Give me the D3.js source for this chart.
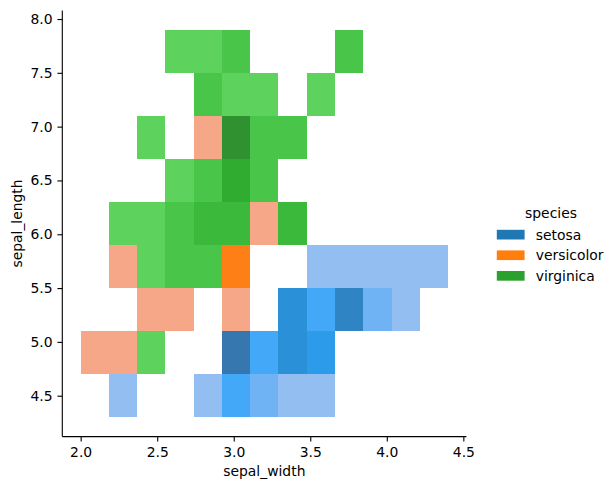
<!DOCTYPE html>
<html>
<head>
<meta charset="utf-8">
<script src="https://cdn.jsdelivr.net/npm/d3@7"></script>
<style>
  html, body { margin: 0; padding: 0; background: #fff; }
  svg { display: block; font-family: "DejaVu Sans", sans-serif; }
</style>
</head>
<body>
<svg id="chart" width="615" height="490"></svg>
<script>
// ---------------- data ----------------
const species = ["setosa", "versicolor", "virginica"];
const speciesColors = ["#1f77b4", "#ff7f0e", "#2ca02c"];

// bin layout (sepal_width on x, sepal_length on y)
const xBinRange = [2.0, 4.4];
const xBinCount = 13;
const yBinRange = [4.3, 7.9];
const yBinCount = 9;

// counts per bin: rows = sepal_length bins (bottom -> top), columns = sepal_width bins (left -> right)
const setosaCounts = [
  [0,1,0,0,1,3,2,1,1,0,0,0,0],
  [0,0,0,0,0,7,3,5,4,0,0,0,0],
  [0,0,0,0,0,0,0,5,3,6,2,1,0],
  [0,0,0,0,0,0,0,0,1,1,1,1,1],
  [0,0,0,0,0,0,0,0,0,0,0,0,0],
  [0,0,0,0,0,0,0,0,0,0,0,0,0],
  [0,0,0,0,0,0,0,0,0,0,0,0,0],
  [0,0,0,0,0,0,0,0,0,0,0,0,0],
  [0,0,0,0,0,0,0,0,0,0,0,0,0]
];
const versicolorCounts = [
  [0,0,0,0,0,0,0,0,0,0,0,0,0],
  [1,1,1,0,0,0,0,0,0,0,0,0,0],
  [0,0,1,1,0,1,0,0,0,0,0,0,0],
  [0,1,4,6,4,3,0,0,0,0,0,0,0],
  [0,3,1,1,5,2,1,2,0,0,0,0,0],
  [0,0,0,0,3,1,1,0,0,0,0,0,0],
  [0,0,0,0,1,4,1,0,0,0,0,0,0],
  [0,0,0,0,0,0,0,0,0,0,0,0,0],
  [0,0,0,0,0,0,0,0,0,0,0,0,0]
];
const virginicaCounts = [
  [0,0,0,0,0,0,0,0,0,0,0,0,0],
  [0,0,1,0,0,0,0,0,0,0,0,0,0],
  [0,0,0,0,0,0,0,0,0,0,0,0,0],
  [0,0,1,2,2,0,0,0,0,0,0,0,0],
  [0,1,1,2,3,3,0,3,0,0,0,0,0],
  [0,0,0,1,2,4,2,0,0,0,0,0,0],
  [0,0,1,0,0,6,2,2,0,0,0,0,0],
  [0,0,0,0,2,1,1,0,1,0,0,0,0],
  [0,0,0,1,1,2,0,0,0,2,0,0,0]
];
const countsBySpecies = [setosaCounts, versicolorCounts, virginicaCounts];

const xTicks = [2.0, 2.5, 3.0, 3.5, 4.0, 4.5];
const yTicks = [4.5, 5.0, 5.5, 6.0, 6.5, 7.0, 7.5, 8.0];
const xLabel = "sepal_width";
const yLabel = "sepal_length";
const legendTitle = "species";

// ---------------- HUSL (seaborn's husl module) ----------------
const HM = [[3.2406, -1.5372, -0.4986], [-0.9689, 1.8758, 0.0415], [0.0557, -0.2040, 1.0570]];
const HM_INV = [[0.4124, 0.3576, 0.1805], [0.2126, 0.7152, 0.0722], [0.0193, 0.1192, 0.9505]];
const refY = 1.0, refU = 0.19784, refV = 0.46834, labE = 0.008856, labK = 903.3;
function maxChroma(L, H) {
  const hr = H * Math.PI / 180, sinH = Math.sin(hr), cosH = Math.cos(hr);
  const sub1 = Math.pow(L + 16, 3) / 1560896.0;
  const sub2 = sub1 > 0.008856 ? sub1 : L / 903.3;
  let res = Infinity;
  for (const [m1, m2, m3] of HM) {
    const top = (0.99915 * m1 + 1.05122 * m2 + 1.14460 * m3) * sub2;
    const rb = 0.86330 * m3 - 0.17266 * m2;
    const lb = 0.12949 * m3 - 0.38848 * m1;
    const bottom = (rb * sinH + lb * cosH) * sub2;
    for (const t of [0, 1]) {
      const C = L * (top - 1.05122 * t) / (bottom + 0.17266 * sinH * t);
      if (C > 0 && C < res) res = C;
    }
  }
  return res;
}
const fLab = t => t > labE ? Math.pow(t, 1 / 3) : 7.787 * t + 16 / 116;
const fInv = t => Math.pow(t, 3) > labE ? Math.pow(t, 3) : (116 * t - 16) / labK;
const toLin = c => c > 0.04045 ? Math.pow((c + 0.055) / 1.055, 2.4) : c / 12.92;
const fromLin = c => c <= 0.0031308 ? 12.92 * c : 1.055 * Math.pow(c, 1 / 2.4) - 0.055;
function rgbToHusl(r, g, b) {
  const rl = [toLin(r), toLin(g), toLin(b)];
  const [X, Y, Z] = HM_INV.map(row => row[0] * rl[0] + row[1] * rl[1] + row[2] * rl[2]);
  if (X === 0 && Y === 0 && Z === 0) return [0, 0, 0];
  const den = X + 15 * Y + 3 * Z;
  const vu = 4 * X / den, vv = 9 * Y / den;
  const L = 116 * fLab(Y / refY) - 16;
  if (L === 0) return [0, 0, 0];
  const U = 13 * L * (vu - refU), V = 13 * L * (vv - refV);
  const C = Math.sqrt(U * U + V * V);
  let H = Math.atan2(V, U) * 180 / Math.PI;
  if (H < 0) H += 360;
  if (L > 99.9999999) return [H, 0, 100];
  if (L < 1e-8) return [H, 0, 0];
  return [H, C / maxChroma(L, H) * 100, L];
}
function huslToRgb(H, S, L) {
  if (L > 99.9999999) return [1, 1, 1];
  if (L < 1e-8) return [0, 0, 0];
  const C = maxChroma(L, H) / 100 * S;
  const hr = H * Math.PI / 180;
  const U = C * Math.cos(hr), V = C * Math.sin(hr);
  const vy = fInv((L + 16) / 116);
  const vu = U / (13 * L) + refU, vv = V / (13 * L) + refV;
  const Y = vy * refY;
  const X = 0 - (9 * Y * vu) / ((vu - 4) * vv - vu * vv);
  const Z = (9 * Y - 15 * vv * Y - vv * X) / (3 * vv);
  return HM.map(row => fromLin(row[0] * X + row[1] * Y + row[2] * Z));
}
// seaborn's _cmap_from_color: 256-entry ramp, reversed
function cmapFromColor(hex) {
  const c = d3.rgb(hex);
  const [h, s] = rgbToHusl(c.r / 255, c.g / 255, c.b / 255);
  const n = Math.floor(1.15 * 256);
  const list = [];
  for (let i = 0; i < 256; i++) {
    const xx = -1 + 2 * i / (n - 1);
    const L = 35 + (80 - 35) * i / 255;
    const rgb = huslToRgb(h, s * Math.cos(xx), L).map(v => Math.max(0, Math.min(1, v)));
    list.push(d3.rgb(Math.round(rgb[0] * 255), Math.round(rgb[1] * 255), Math.round(rgb[2] * 255)).formatHex());
  }
  list.reverse();
  return v => list[Math.max(0, Math.min(255, Math.floor(v * 256)))];
}

// ---------------- layout ----------------
const svg = d3.select("#chart");
const plot = { left: 62.3, right: 466.4, top: 10.4, bottom: 436.6 };
const FS = 13.9;

const xEdges = d3.range(xBinCount + 1).map(i => xBinRange[0] + i * (xBinRange[1] - xBinRange[0]) / xBinCount);
const yEdges = d3.range(yBinCount + 1).map(i => yBinRange[0] + i * (yBinRange[1] - yBinRange[0]) / yBinCount);
const xPad = 0.05 * (xBinRange[1] - xBinRange[0]);
const yPad = 0.05 * (yBinRange[1] - yBinRange[0]);

const x = d3.scaleLinear().domain([xBinRange[0] - xPad, xBinRange[1] + xPad]).range([plot.left, plot.right]);
const y = d3.scaleLinear().domain([yBinRange[0] - yPad, yBinRange[1] + yPad]).range([plot.bottom, plot.top]);

// colour norm: 0 .. max of the pooled (all-species) bin counts
const pooled = setosaCounts.map((row, yi) => row.map((_, xi) =>
  d3.sum(countsBySpecies, m => m[yi][xi])));
const vmax = d3.max(pooled.flat());
const norm = d3.scaleLinear().domain([0, vmax]).range([0, 1]);

// cells
species.forEach((sp, si) => {
  const cmap = cmapFromColor(speciesColors[si]);
  const cells = [];
  countsBySpecies[si].forEach((row, yi) => row.forEach((c, xi) => {
    if (c > 0) cells.push({ xi, yi, c });
  }));
  svg.append("g").attr("class", "mesh-" + sp)
    .selectAll("rect").data(cells).join("rect")
    .attr("x", d => x(xEdges[d.xi]))
    .attr("y", d => y(yEdges[d.yi + 1]))
    .attr("width", d => x(xEdges[d.xi + 1]) - x(xEdges[d.xi]))
    .attr("height", d => y(yEdges[d.yi]) - y(yEdges[d.yi + 1]))
    .attr("fill", d => cmap(norm(d.c)))
    .attr("shape-rendering", "crispEdges");
});

// axes
const tickLen = 4.86, lw = 1.11;
const xAxis = d3.axisBottom(x).tickValues(xTicks).tickFormat(d3.format(".1f"))
  .tickSize(tickLen).tickSizeOuter(0).tickPadding(5.2);
const gx = svg.append("g").attr("transform", `translate(0,${plot.bottom})`).call(xAxis);
const yAxis = d3.axisLeft(y).tickValues(yTicks).tickFormat(d3.format(".1f"))
  .tickSize(tickLen).tickSizeOuter(0).tickPadding(4.86);
const gy = svg.append("g").attr("transform", `translate(${plot.left},0)`).call(yAxis);
[gx, gy].forEach(g => {
  g.selectAll("path.domain").attr("stroke", "#000").attr("stroke-width", lw);
  g.selectAll(".tick line").attr("stroke", "#000").attr("stroke-width", lw);
  g.selectAll(".tick text").attr("fill", "#000").style("font-size", FS + "px")
    .style("font-family", "DejaVu Sans, sans-serif");
});
gx.select("path.domain").attr("d", `M${plot.left},0H${plot.right}`);
gy.select("path.domain").attr("d", `M0,${plot.bottom}V${plot.top}`);

// axis labels
svg.append("text").attr("x", (plot.left + plot.right) / 2).attr("y", 475.5)
  .attr("text-anchor", "middle").style("font-size", FS + "px").text(xLabel);
svg.append("text").attr("transform", `translate(21.5,${(plot.top + plot.bottom) / 2}) rotate(-90)`)
  .attr("text-anchor", "middle").style("font-size", FS + "px").text(yLabel);

// legend
const lg = svg.append("g").attr("class", "legend");
lg.append("text").attr("x", 551).attr("y", 217.5).attr("text-anchor", "middle")
  .style("font-size", FS + "px").text(legendTitle);
species.forEach((sp, i) => {
  const cy = 234.7 + i * 20.6;
  lg.append("rect").attr("x", 496.8).attr("y", cy - 4.9).attr("width", 27.8).attr("height", 9.7)
    .attr("fill", speciesColors[i]);
  lg.append("text").attr("x", 535.7).attr("y", cy + 4.9)
    .style("font-size", FS + "px").text(sp);
});
</script>
</body>
</html>
